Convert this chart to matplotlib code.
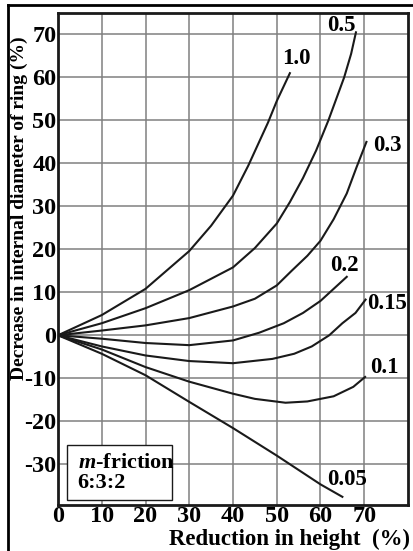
import matplotlib
matplotlib.use("Agg")
import matplotlib.pyplot as plt
from matplotlib.lines import Line2D
from matplotlib.patches import Rectangle

plt.rcParams['font.family'] = ['Liberation Serif', 'DejaVu Serif']
plt.rcParams['font.weight'] = 'bold'
plt.rcParams['mathtext.fontset'] = 'custom'
plt.rcParams['mathtext.bfit'] = 'Liberation Serif:italic:bold'
plt.rcParams['mathtext.bf'] = 'Liberation Serif:bold'

# friction factor m -> (reduction in height %, decrease in internal diameter %)
x_10 = [0, 10, 20, 30, 35, 40, 43.5, 48, 50, 53]
y_10 = [0, 4.7, 10.8, 19.6, 25.5, 32.5, 39.5, 49.5, 54.5, 61]

x_05 = [0, 10, 20, 30, 40, 45, 50, 53, 56, 59, 61.8, 63.6, 65.4, 67, 68.1]
y_05 = [0, 2.8, 6.3, 10.5, 15.8, 20.3, 26, 31, 36.6, 43, 50, 55, 60, 65.5, 70.5]

x_03 = [0, 10, 20, 30, 40, 45, 50, 53.4, 57, 60, 63, 66, 68.2, 70.5]
y_03 = [0, 1.1, 2.3, 4.0, 6.7, 8.5, 11.6, 15, 18.5, 22, 27, 33, 39, 45]

x_02 = [0, 10, 20, 30, 40, 46, 51.6, 56, 60, 66]
y_02 = [0, -0.8, -1.8, -2.3, -1.2, 0.6, 2.8, 5.2, 8, 13.6]

x_015 = [0, 10, 20, 30, 40, 49, 54, 58, 62, 65, 68, 70.3]
y_015 = [0, -2.6, -4.7, -6.0, -6.5, -5.5, -4.3, -2.6, 0, 2.8, 5.2, 8.3]

x_01 = [0, 10, 20, 30, 40, 45, 52, 57, 63, 67.5, 70.2]
y_01 = [0, -3.3, -7.4, -10.8, -13.6, -14.8, -15.7, -15.4, -14.2, -12, -9.7]

x_005 = [0, 10, 20, 30, 40, 50, 60, 65]
y_005 = [0, -4.3, -9.3, -15.5, -21.6, -28, -34.7, -37.6]

labels = ["1.0", "0.5", "0.3", "0.2", "0.15", "0.1", "0.05"]
label_pos = [(54.5, 64.5), (64.8, 72), (75.3, 44.2), (65.5, 16.3),
             (75.3, 7.4), (74.5, -7.4), (66, -33.5)]

xticks = [0, 10, 20, 30, 40, 50, 60, 70]
yticks = [-30, -20, -10, 0, 10, 20, 30, 40, 50, 60, 70]

fig = plt.figure(figsize=(4.14, 5.51), dpi=100)
ax = fig.add_axes([58/414, 46/551, 350/414, 492/551])

xs = [x_10, x_05, x_03, x_02, x_015, x_01, x_005]
ys = [y_10, y_05, y_03, y_02, y_015, y_01, y_005]
for xx, yy in zip(xs, ys):
    ax.plot(xx, yy, color='#1a1a1a', lw=1.5, zorder=3)

for t, (lx, ly) in zip(labels, label_pos):
    ax.text(lx, ly, t, fontsize=16.5, fontweight='bold', ha='center', va='center', zorder=4)

ax.set_xlim(0, 80)
ax.set_ylim(-39.5, 75)
ax.set_xticks(xticks)
ax.set_yticks(yticks)
ax.set_xticklabels([str(v) for v in xticks], fontsize=17.5, fontweight='bold')
ax.set_yticklabels([str(v) for v in yticks], fontsize=17.5, fontweight='bold')
ax.tick_params(length=0, pad=1)
ax.grid(True, color='#808080', lw=1.1)
ax.set_axisbelow(True)
for s in ax.spines.values():
    s.set_linewidth(2)
    s.set_color('#1a1a1a')

# legend-like box
ax.add_patch(Rectangle((2, -38.4), 24, 12.8, fill=True, facecolor='white',
                       edgecolor='#1a1a1a', lw=1.0, zorder=5))
ax.text(4.5, -29.8, r'$\mathbfit{m}$-friction', fontsize=16, fontweight='bold',
        va='center', ha='left', zorder=6)
ax.text(4.5, -34.3, '6:3:2', fontsize=16, fontweight='bold', va='center', ha='left', zorder=6)

fig.text(410/414, 1 - 539/551, 'Reduction in height  (%)', fontsize=16.5,
         fontweight='bold', ha='right', va='center')
fig.text(19.5/414, 1 - 208/551, 'Decrease in internal diameter of ring (%)', fontsize=14,
         fontweight='bold', ha='center', va='center', rotation=90)

# outer frame (top and left visible)
fig.add_artist(Line2D([8/414, 1.0], [1 - 5/551, 1 - 5/551], color='black', lw=2))
fig.add_artist(Line2D([8/414, 8/414], [0, 1 - 5/551], color='black', lw=2))

fig.savefig('out.png', dpi=100)
